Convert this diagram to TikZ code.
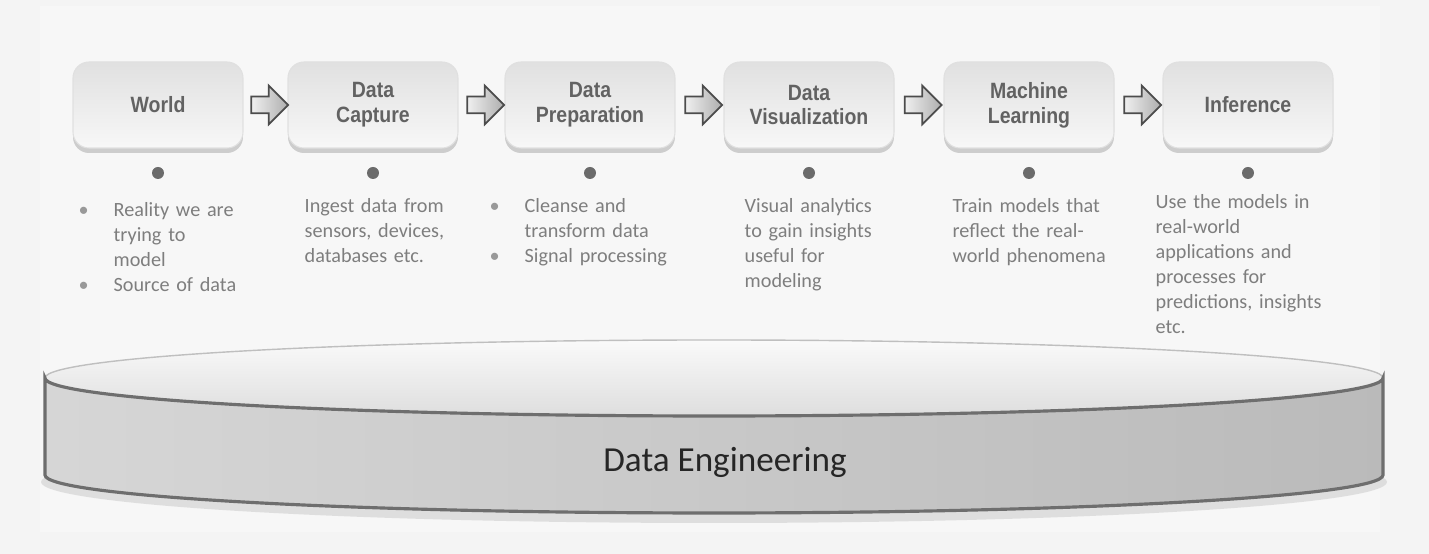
\documentclass[tikz,border=0pt]{standalone}
\usepackage{fontspec}
\setmainfont{Carlito}
\newfontfamily\stagefont[FakeStretch=0.88]{Liberation Sans}
\usetikzlibrary{shapes.arrows,shadows,calc}
\definecolor{ink}{HTML}{626262}
\definecolor{notegray}{HTML}{7E7E7E}
\definecolor{rim}{HTML}{6E6E6E}
\begin{document}
\begin{tikzpicture}[x=0.1mm,y=0.1mm,
  stage/.style={rounded corners=1.6mm, minimum width=17mm, minimum height=8.6mm,
    top color=black!12, bottom color=black!3, draw=black!12, line width=0.3pt,
    drop shadow={shadow xshift=0pt, shadow yshift=-0.5mm, opacity=0.35},
    font=\stagefont\bfseries\fontsize{6.3}{7.1}\selectfont, text=ink, align=center},
  flow/.style={single arrow, draw=black!70, line width=0.5pt, left color=black!6,
    right color=black!32, minimum height=3.7mm, inner sep=0pt, inner ysep=0.75mm,
    single arrow head extend=1.1mm, single arrow head indent=0pt},
  dot/.style={circle, fill=black!58, inner sep=0pt, minimum size=1.2mm},
  note/.style={anchor=base west, inner sep=0pt, text width=19mm, align=left,
    text=notegray, font=\fontsize{5.75}{7.1}\selectfont}]
  \def\itm{\leavevmode\llap{{\color{black!40}\textbullet}\hspace{2.5mm}}}
  % backdrop
  \fill[black!4.5] (0,0) rectangle (1429,554);
  \fill[black!3] (40,22) rectangle (1380,548);
  % platform : shadow, top, side
  \fill[black!22, opacity=.5] (714,72) ellipse (673 and 41);
  \path[top color=black!2, bottom color=black!13, draw=black!25, line width=0.4pt]
    (714,176) ellipse (669 and 38);
  \path[left color=black!16, right color=black!27, draw=rim, line width=0.9pt]
    (45,176) -- (45,79) arc[start angle=180, end angle=360, x radius=669, y radius=38]
    -- (1383,176) arc[start angle=0, end angle=-180, x radius=669, y radius=38] -- cycle;
  \node[font=\fontsize{10}{12}\selectfont, text=black!85] (plat) at (725,92) {Data Engineering};
  % stages and their dots
  \foreach \i/\x/\t in {1/158/World, 2/373/{Data\\Capture}, 3/590/{Data\\Preparation},
      4/809/{Data\\Visualization}, 5/1029/{Machine\\Learning}, 6/1248/Inference}{
    \node[stage] (s\i) at (\x,449) {\t};
    \node[dot] (p\i) at (\x,381) {};
  }
  \foreach \a/\b in {1/2,2/3,3/4,4/5,5/6}
    \node[flow] (f\a) at ($(s\a.east)!0.5!(s\b.west)$) {};
  % notes under each stage
  \node[note] (n1) at (113,337) {\itm Reality we are\\ trying to\\ model\\ \itm Source of data};
  \node[note] (n2) at (304,341) {Ingest data from\\ sensors, devices,\\ databases etc.};
  \node[note] (n3) at (524,341) {\itm Cleanse and\\ transform data\\ \itm Signal processing};
  \node[note] (n4) at (744,341) {Visual analytics\\ to gain insights\\ useful for\\ modeling};
  \node[note] (n5) at (952,341) {Train models that\\ reflect the real-\\ world phenomena};
  \node[note] (n6) at (1155,345) {Use the models in\\ real-world\\ applications and\\ processes for\\ predictions, insights\\ etc.};
\end{tikzpicture}
\end{document}
